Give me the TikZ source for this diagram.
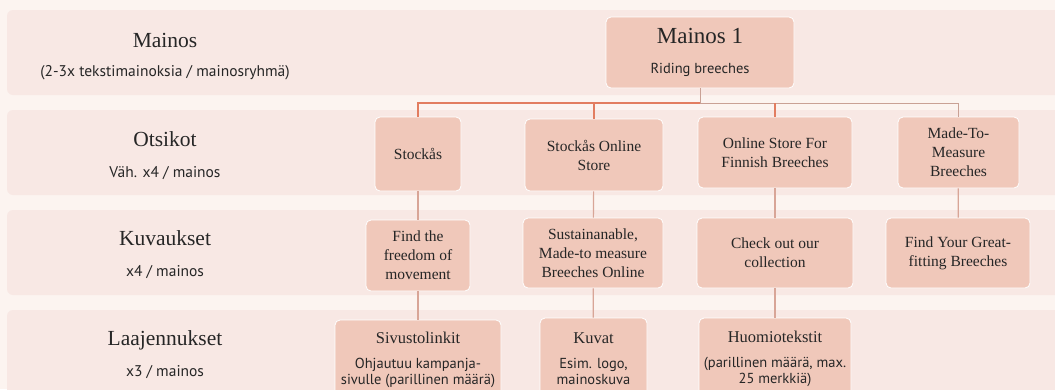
\documentclass[tikz,border=0pt]{standalone}
\usepackage{fontspec}
\setmainfont{Liberation Serif}
\setsansfont{PT Sans}
\usepackage{xcolor}
\usepackage{tikz}
\usetikzlibrary{arrows.meta,positioning}

\definecolor{bgc}{HTML}{FCF4F0}
\definecolor{rowc}{HTML}{F8E8E4}
\definecolor{boxc}{HTML}{F0C8BA}
\definecolor{treec}{HTML}{E27D60}
\definecolor{busc}{HTML}{C9A195}
\definecolor{linkc}{HTML}{D8A597}
\definecolor{txtc}{HTML}{262626}

\begin{document}
\begin{tikzpicture}[
  x=1pt, y=-1pt,
  row/.style={fill=rowc,rounded corners=6pt},
  box/.style={draw=white,line width=0.8pt,rounded corners=5pt,fill=boxc,
              align=center,text=txtc,inner sep=3pt,
              font=\fontsize{15.5}{19}\selectfont},
  twobox/.style={box,font=\sffamily\fontsize{14.5}{16.5}\selectfont},
  lbl/.style={anchor=base,text=txtc,font=\fontsize{21.5}{24}\selectfont},
  lblsub/.style={anchor=base,text=txtc,font=\sffamily\fontsize{15.5}{18}\selectfont},
  tree/.style={treec,line width=1.5pt},
  bus/.style={busc,line width=1pt},
  link/.style={linkc,line width=1.2pt}
]
\useasboundingbox (0,0) rectangle (1055,389);
\fill[bgc] (0,0) rectangle (1055,389);
% row bands
\fill[row] (7,10) rectangle (1065,95);
\fill[row] (7,110) rectangle (1065,195);
\fill[row] (7,210) rectangle (1065,295);
\fill[row] (7,310) rectangle (1065,400);

% left labels
\node[lbl] (lmain) at (165,47) {Mainos};
\node[lblsub] (smain) at ([yshift=-29.5pt]lmain.base) {(2-3x tekstimainoksia / mainosryhmä)};
\node[lbl] (lots) at (165,146) {Otsikot};
\node[lblsub] (sots) at ([yshift=-31pt]lots.base) {Väh. x4 / mainos};
\node[lbl] (lkuv) at (165,245.5) {Kuvaukset};
\node[lblsub] (skuv) at ([yshift=-31pt]lkuv.base) {x4 / mainos};
\node[lbl] (llaa) at (165,345.5) {Laajennukset};
\node[lblsub] (slaa) at ([yshift=-31pt]llaa.base) {x3 / mainos};

% mainos
\node[twobox,minimum width=188,minimum height=71] (m1) at (700,52.5)
  {{\rmfamily\fontsize{23}{26}\selectfont Mainos 1}\\[13pt]Riding breeches};

% otsikot
\node[box,minimum width=86,minimum height=74] (sto) at (418,154) {Stockås};
\node[box,minimum width=138,minimum height=72] (son) at (594,155) {Stockås Online\\Store};
\node[box,minimum width=154,minimum height=71] (osf) at (775,152.5) {Online Store For\\Finnish Breeches};
\node[box,minimum width=121,minimum height=71] (mtm) at (958.5,152.5) {Made-To-\\Measure\\Breeches};

% kuvaukset
\node[box,minimum width=104,minimum height=71] (ffm) at (418,255.5) {Find the\\freedom of\\movement};
\node[box,minimum width=140,minimum height=70] (smb) at (593,253) {Sustainanable,\\Made-to measure\\Breeches Online};
\node[box,minimum width=156,minimum height=70] (cao) at (775,253) {Check out our\\collection};
\node[box,minimum width=144,minimum height=70] (fyg) at (958,253) {Find Your Great-\\fitting Breeches};

% laajennukset
\node[twobox,minimum width=166,minimum height=80] (sivu) at (418,360)
  {{\rmfamily\fontsize{16.5}{20}\selectfont Sivustolinkit}\\[8pt]Ohjautuu kampanja-\\sivulle (parillinen määrä)};
\node[twobox,minimum width=107,minimum height=82] (kuvat) at (593.5,359)
  {{\rmfamily\fontsize{16.5}{20}\selectfont Kuvat}\\[8pt]Esim. logo,\\mainoskuva};
\node[twobox,minimum width=152,minimum height=82] (huom) at (775,359)
  {{\rmfamily\fontsize{16.5}{20}\selectfont Huomiotekstit}\\[8pt](parillinen määrä, max.\\25 merkkiä)};

% tree from the ad
\coordinate (bt) at (700,103);
\draw[bus] (m1.south) -- (bt) -| (mtm.north);
\draw[tree] (bt) -| (sto.north);
\draw[tree] (bt) -| (son.north);
\draw[tree] (osf.north |- bt) -- (osf.north);

% links between rows
\draw[link] (sto) -- (ffm);
\draw[link] (ffm) -- (sivu);
\draw[link] (son) -- (smb);
\draw[link] (smb) -- (kuvat);
\draw[link] (osf) -- (cao);
\draw[link] (cao) -- (huom);
\draw[link] (mtm) -- (fyg);
\end{tikzpicture}
\end{document}
